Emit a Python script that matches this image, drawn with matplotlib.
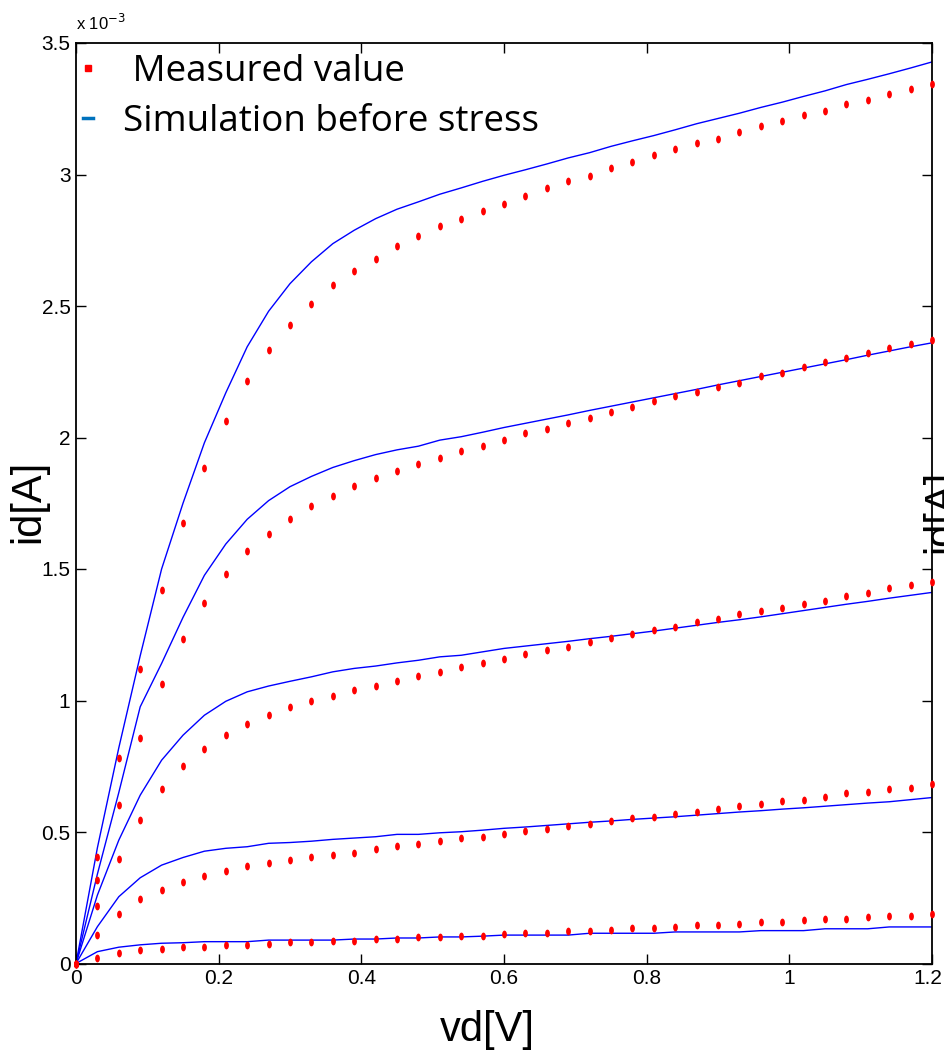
import numpy as np
import matplotlib
matplotlib.use("Agg")
import matplotlib.pyplot as plt
from matplotlib.lines import Line2D
from matplotlib.path import Path
from matplotlib.markers import MarkerStyle
from matplotlib.transforms import ScaledTranslation

# ---- data (drain current in units of 1e-3 A) ----
vd = [round(0.03 * i, 2) for i in range(41)]

meas_1 = [0, .022, .040, .051, .056, .064, .064, .069, .069, .075, .080, .080, .087, .087, .093, .093,
          .100, .100, .104, .104, .111, .117, .117, .122, .122, .128, .135, .135, .140, .146, .146, .151,
          .158, .158, .164, .169, .169, .176, .182, .182, .187]
meas_2 = [0, .107, .187, .245, .280, .311, .334, .351, .369, .382, .393, .405, .411, .422, .435, .446,
          .453, .464, .476, .482, .493, .505, .511, .522, .529, .540, .552, .558, .569, .576, .587, .600,
          .605, .616, .622, .634, .647, .652, .663, .669, .681]
meas_3 = [0, .218, .398, .545, .663, .752, .816, .868, .910, .944, .975, .999, 1.016, 1.039, 1.057, 1.074,
          1.092, 1.110, 1.128, 1.144, 1.156, 1.175, 1.191, 1.204, 1.221, 1.239, 1.251, 1.268, 1.280, 1.297,
          1.309, 1.327, 1.339, 1.351, 1.368, 1.380, 1.397, 1.409, 1.427, 1.438, 1.451]
meas_4 = [0, .317, .603, .858, 1.063, 1.234, 1.369, 1.480, 1.568, 1.632, 1.691, 1.738, 1.779, 1.815, 1.845,
          1.874, 1.898, 1.921, 1.950, 1.967, 1.990, 2.016, 2.032, 2.056, 2.073, 2.098, 2.115, 2.138, 2.156,
          2.174, 2.191, 2.209, 2.233, 2.245, 2.269, 2.286, 2.304, 2.321, 2.340, 2.356, 2.369]
meas_5 = [0, .405, .781, 1.121, 1.422, 1.675, 1.885, 2.062, 2.214, 2.332, 2.426, 2.509, 2.580, 2.632, 2.679,
          2.727, 2.767, 2.803, 2.832, 2.862, 2.889, 2.920, 2.950, 2.974, 2.996, 3.026, 3.049, 3.073, 3.096,
          3.120, 3.136, 3.162, 3.185, 3.202, 3.225, 3.243, 3.267, 3.285, 3.307, 3.326, 3.343]

sim_1 = [0, .045, .062, .071, .077, .079, .083, .083, .083, .089, .089, .089, .089, .093, .093, .097, .097,
         .101, .101, .104, .108, .108, .108, .108, .115, .115, .115, .115, .120, .120, .120, .120, .125, .125,
         .125, .132, .132, .132, .139, .139, .139]
sim_2 = [0, .140, .254, .326, .374, .403, .427, .438, .444, .457, .460, .465, .472, .477, .482, .491, .491,
         .497, .501, .507, .514, .519, .525, .531, .537, .542, .548, .553, .558, .564, .570, .576, .581, .587,
         .592, .598, .604, .610, .615, .623, .631]
sim_3 = [0, .26, .469, .640, .773, .868, .944, .997, 1.033, 1.055, 1.073, 1.090, 1.109, 1.122, 1.131, 1.143,
         1.153, 1.166, 1.172, 1.185, 1.198, 1.207, 1.216, 1.225, 1.235, 1.244, 1.254, 1.264, 1.275, 1.286,
         1.297, 1.307, 1.318, 1.330, 1.342, 1.354, 1.366, 1.377, 1.389, 1.400, 1.411]
sim_4 = [0, .34, .65, .976, 1.141, 1.316, 1.476, 1.595, 1.689, 1.760, 1.813, 1.852, 1.886, 1.912, 1.935, 1.953,
         1.967, 1.990, 2.003, 2.020, 2.038, 2.054, 2.070, 2.086, 2.103, 2.119, 2.135, 2.151, 2.167, 2.183,
         2.200, 2.216, 2.232, 2.248, 2.264, 2.280, 2.296, 2.313, 2.329, 2.345, 2.360]
sim_5 = [0, .44, .82, 1.17, 1.50, 1.75, 1.98, 2.17, 2.345, 2.48, 2.585, 2.668, 2.737, 2.788, 2.832, 2.868,
         2.896, 2.925, 2.949, 2.974, 2.997, 3.018, 3.040, 3.063, 3.083, 3.107, 3.128, 3.148, 3.170, 3.193,
         3.213, 3.233, 3.255, 3.275, 3.297, 3.318, 3.342, 3.362, 3.383, 3.405, 3.428]

measured = [meas_1, meas_2, meas_3, meas_4, meas_5]
simulated = [sim_1, sim_2, sim_3, sim_4, sim_5]

xticks = [0, 0.2, 0.4, 0.6, 0.8, 1.0, 1.2]
xtick_labels = ["0", "0.2", "0.4", "0.6", "0.8", "1", "1.2"]
yticks = [0, 0.5, 1.0, 1.5, 2.0, 2.5, 3.0, 3.5]
ytick_labels = ["0", "0.5", "1", "1.5", "2", "2.5", "3", "3.5"]
legend_labels = [" Measured value", "Simulation before stress"]

SANS = ["Liberation Sans", "DejaVu Sans"]

# ---- figure ----
fig = plt.figure(figsize=(9.45, 10.51), dpi=100)
ax = fig.add_axes([76 / 945, 1 - 963.5 / 1051, (932 - 76) / 945, (963.5 - 43) / 1051])

# elliptical (tall) dot marker
t = np.linspace(0, 2 * np.pi, 40)
ell = Path(np.column_stack([0.62 * np.cos(t), np.sin(t)]), closed=True)
dot = MarkerStyle(ell)

for s in simulated:
    ax.plot(vd, s, color="#0000FF", lw=1.0, zorder=2)
for m in measured:
    ax.plot(vd, m, ls="none", marker=dot, ms=5.6, color="#FF0000", mec="none", zorder=3, clip_on=False)

ax.set_xlim(0, 1.2)
ax.set_ylim(0, 3.5)
ax.set_xticks(xticks)
ax.set_xticklabels(xtick_labels)
ax.set_yticks(yticks)
ax.set_yticklabels(ytick_labels)
ax.tick_params(direction="in", length=7, width=1, top=True, right=True, labelsize=15, pad=4)
for lab in ax.get_xticklabels() + ax.get_yticklabels():
    lab.set_family(SANS)
last = ax.get_xticklabels()[-1]
last.set_transform(last.get_transform() + ScaledTranslation(-4 / 100, 0, fig.dpi_scale_trans))
for sp in ax.spines.values():
    sp.set_linewidth(1.3)

ax.set_xlabel("vd[V]", family=SANS, fontsize=30)
ax.xaxis.set_label_coords(0.48, -0.050)
ax.set_ylabel("id[A]", family=SANS, fontsize=30)
ax.yaxis.set_label_coords(-0.033, 0.502)

# exponent label
fig.text(76 / 945, 1 - 30 / 1051, r"x 10$^{-3}$", family=SANS, fontsize=12, ha="left", va="baseline")

# clipped neighbour label at right edge
fig.text(921 / 945, 1 - 511 / 1051, "id[A]", family=SANS, fontsize=30,
         rotation=90, ha="left", va="center")

handles = [Line2D([], [], ls="none", marker="s", ms=4.5, color="#FF0000"),
           Line2D([], [], color="#0072BD", lw=2.5)]
leg = ax.legend(handles, legend_labels, loc="upper left", bbox_to_anchor=(0.0, 0.996),
                frameon=False, handlelength=0.27, handletextpad=0.8, labelspacing=0.38,
                borderpad=0.1, borderaxespad=0.1,
                prop={"family": ["Open Sans", "DejaVu Sans"], "size": 26.5})

fig.savefig("out.png", dpi=100)
